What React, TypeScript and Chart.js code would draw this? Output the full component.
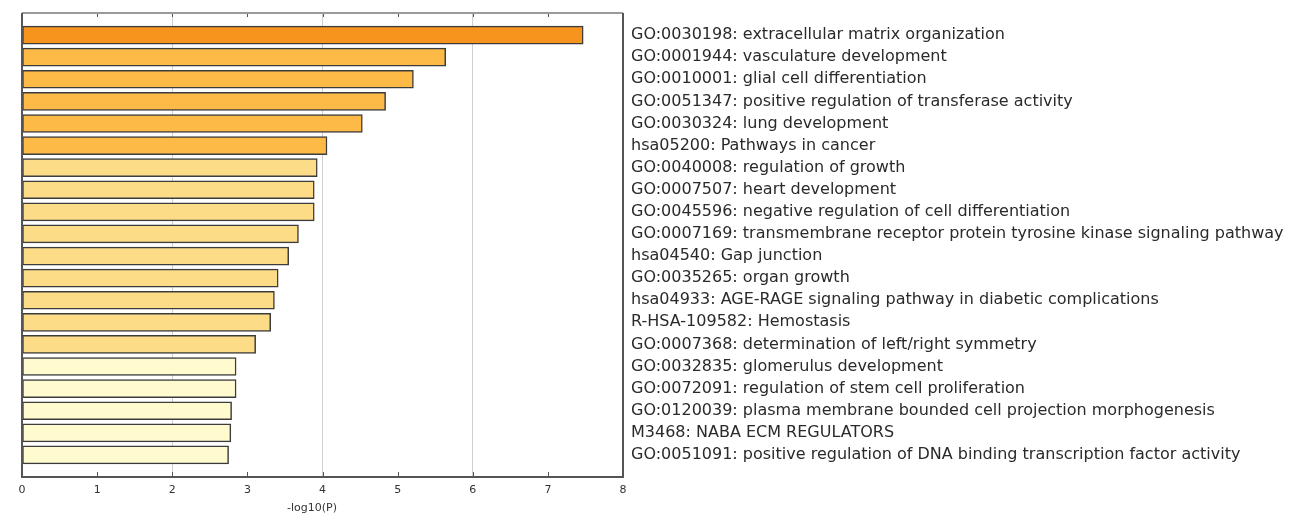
import React, { useEffect, useRef } from "react";
import { Chart, registerables } from "chart.js";

Chart.register(...registerables);

const terms: string[] = [
  "GO:0030198: extracellular matrix organization",
  "GO:0001944: vasculature development",
  "GO:0010001: glial cell differentiation",
  "GO:0051347: positive regulation of transferase activity",
  "GO:0030324: lung development",
  "hsa05200: Pathways in cancer",
  "GO:0040008: regulation of growth",
  "GO:0007507: heart development",
  "GO:0045596: negative regulation of cell differentiation",
  "GO:0007169: transmembrane receptor protein tyrosine kinase signaling pathway",
  "hsa04540: Gap junction",
  "GO:0035265: organ growth",
  "hsa04933: AGE-RAGE signaling pathway in diabetic complications",
  "R-HSA-109582: Hemostasis",
  "GO:0007368: determination of left/right symmetry",
  "GO:0032835: glomerulus development",
  "GO:0072091: regulation of stem cell proliferation",
  "GO:0120039: plasma membrane bounded cell projection morphogenesis",
  "M3468: NABA ECM REGULATORS",
  "GO:0051091: positive regulation of DNA binding transcription factor activity",
];

const values: number[] = [
  7.47, 5.64, 5.21, 4.84, 4.53, 4.06, 3.93, 3.89, 3.89, 3.68, 3.55, 3.41, 3.36,
  3.31, 3.11, 2.85, 2.85, 2.79, 2.78, 2.75,
];

const palette: string[] = ["#F7941E", "#FDBA47", "#FDDC87", "#FFFBCF"];
const colorIndex: number[] = [0, 1, 1, 1, 1, 1, 2, 2, 2, 2, 2, 2, 2, 2, 2, 3, 3, 3, 3, 3];

const xMin = 0;
const xMax = 8;
const xTitle = "-log10(P)      ";

const framePlugin = {
  id: "frame",
  afterDatasetsDraw(chart: any) {
    const { ctx, chartArea } = chart;
    const { left, right, top, bottom } = chartArea;
    const xs = chart.scales.x;
    ctx.save();
    ctx.strokeStyle = "#555";
    ctx.lineWidth = 1;
    for (let v = xMin; v <= xMax; v++) {
      const px = Math.round(xs.getPixelForValue(v)) + 0.5;
      ctx.beginPath();
      ctx.moveTo(px, bottom);
      ctx.lineTo(px, bottom - 5);
      ctx.moveTo(px, top);
      ctx.lineTo(px, top + 4);
      ctx.stroke();
    }
    ctx.lineWidth = 2;
    ctx.strokeStyle = "#9a9a9a";
    ctx.beginPath();
    ctx.moveTo(left, top);
    ctx.lineTo(right, top);
    ctx.stroke();
    ctx.strokeStyle = "#555";
    ctx.beginPath();
    ctx.moveTo(left, top);
    ctx.lineTo(left, bottom);
    ctx.lineTo(right, bottom);
    ctx.lineTo(right, top);
    ctx.stroke();
    ctx.restore();
  },
};

export default function App() {
  const ref = useRef<HTMLCanvasElement>(null);

  useEffect(() => {
    if (!ref.current) return;
    Chart.defaults.font.family = "'DejaVu Sans', sans-serif";
    const labels = ["", ...terms, ""];
    const data = [null, ...values, null];
    const colors = ["#fff", ...colorIndex.map((i) => palette[i]), "#fff"];
    const chart = new Chart(ref.current, {
      type: "bar",
      data: {
        labels,
        datasets: [
          {
            data: data as any,
            backgroundColor: colors,
            borderColor: "#3c3c3c",
            borderWidth: 1.5,
            borderSkipped: false,
            barThickness: 18,
          },
        ],
      },
      options: {
        indexAxis: "y",
        animation: false,
        responsive: true,
        maintainAspectRatio: false,
        layout: { padding: { left: 14, top: 5, right: 0, bottom: 0 } },
        plugins: { legend: { display: false }, tooltip: { enabled: false } },
        scales: {
          x: {
            type: "linear",
            min: xMin,
            max: xMax,
            position: "bottom",
            border: { display: false },
            afterFit: (scale: any) => {
              scale.height = 37;
            },
            grid: {
              drawTicks: false,
              lineWidth: 1,
              color: (c: any) => {
                const v = c.tick ? c.tick.value : 0;
                return v % 2 === 0 && v !== xMin && v !== xMax ? "#cfcfcf" : "rgba(0,0,0,0)";
              },
            },
            ticks: {
              stepSize: 1,
              autoSkip: false,
              maxRotation: 0,
              padding: 7,
              color: "#333",
              font: { size: 11 },
            },
            title: {
              display: true,
              text: xTitle,
              color: "#333",
              font: { size: 11, lineHeight: 1 },
              padding: { top: 0, bottom: 0 },
            },
          },
          y: {
            type: "category",
            position: "right",
            offset: false,
            border: { display: false },
            grid: { display: false, drawTicks: false },
            afterFit: (scale: any) => {
              scale.width = 661;
              scale.paddingTop = 0;
              scale.paddingBottom = 0;
            },
            ticks: {
              autoSkip: false,
              padding: 8,
              color: "#2a2a2a",
              font: { size: 16 },
            },
          },
        },
      },
      plugins: [framePlugin],
    });
    return () => chart.destroy();
  }, []);

  return (
    <div style={{ width: 1276, height: 506, position: "relative" }}>
      <canvas ref={ref} />
    </div>
  );
}
